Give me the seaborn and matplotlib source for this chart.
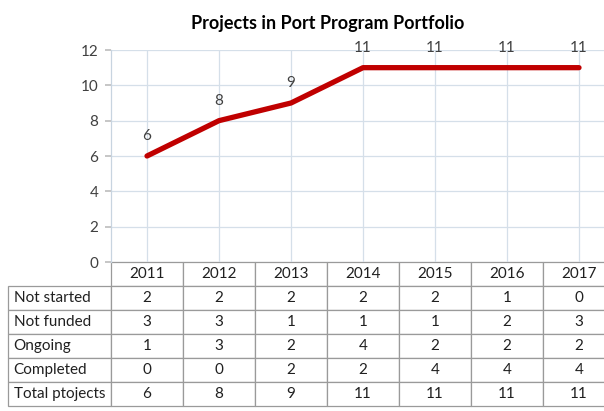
import pandas as pd
import seaborn as sns
import matplotlib.pyplot as plt
from matplotlib.table import Table

# chart data
years = ["2011", "2012", "2013", "2014", "2015", "2016", "2017"]
row_labels = ["Not started", "Not funded", "Ongoing", "Completed", "Total ptojects"]
not_started = [2, 2, 2, 2, 2, 1, 0]
not_funded = [3, 3, 1, 1, 1, 2, 3]
ongoing = [1, 3, 2, 4, 2, 2, 2]
completed = [0, 0, 2, 2, 4, 4, 4]
total_projects = [6, 8, 9, 11, 11, 11, 11]

sns.set_theme(style="white")
plt.rcParams["font.family"] = ["Lato", "DejaVu Sans"]

W, H = 604, 411
fig = plt.figure(figsize=(W / 100, H / 100), dpi=100)

# plot area in pixels (the original chart is cropped on the right)
left, right, top, bottom = 111, 604, 50, 262
col_w = 72
ax = fig.add_axes([left / W, 1 - bottom / H, (right - left) / W, (bottom - top) / H])

df = pd.DataFrame({"idx": range(len(years)), "total": total_projects})
sns.lineplot(data=df, x="idx", y="total", ax=ax, color="#C00000",
             linewidth=3.8, solid_capstyle="round", solid_joinstyle="round")

for i, v in enumerate(total_projects):
    ax.annotate(str(v), (i, v), xytext=(0, 14.5), textcoords="offset points",
                ha="center", va="center", fontsize=11, color="#404040")

ax.set_xlim(-0.5, (right - left) / col_w - 0.5)
ax.set_ylim(0, 12)
ax.set_yticks(range(0, 13, 2))
ax.set_xticks(range(len(years)))
ax.set_xticklabels([])
ax.set_xlabel("")
ax.set_ylabel("")
ax.grid(True, color="#D5DFE9", linewidth=0.9)
ax.tick_params(axis="y", left=True, length=4, color="#BFBFBF", labelsize=11,
               labelcolor="#404040", pad=5)
ax.tick_params(axis="x", bottom=False, length=0)
for side in ["top", "right", "bottom"]:
    ax.spines[side].set_visible(False)
ax.spines["left"].set_color("#C8D4E0")
ax.spines["left"].set_linewidth(0.9)

# data table under the plot, built cell by cell
rows = [not_started, not_funded, ongoing, completed, total_projects]
label_w = left - 8
row_h = 24
n_rows = len(row_labels) + 1
ax_w = right - left
ax_h = bottom - top
tbl = Table(ax, bbox=[-label_w / ax_w, -n_rows * row_h / ax_h,
                      (label_w + col_w * len(years)) / ax_w, n_rows * row_h / ax_h])
for j, year in enumerate(years):
    tbl.add_cell(0, j + 1, col_w, row_h, text=year, loc="center")
for i, (label, row) in enumerate(zip(row_labels, rows)):
    cell = tbl.add_cell(i + 1, 0, label_w, row_h, text=label, loc="left")
    cell.PAD = 0.055
    for j, v in enumerate(row):
        tbl.add_cell(i + 1, j + 1, col_w, row_h, text=str(v), loc="center")
tbl.auto_set_font_size(False)
for cell in tbl.get_celld().values():
    cell.set_edgecolor("#9A9A9A")
    cell.set_linewidth(0.9)
    cell.get_text().set_fontsize(11)
    cell.get_text().set_color("#202020")
ax.add_table(tbl)

fig.text(328 / W, 1 - 23 / H, "Projects in Port Program Portfolio",
         ha="center", va="center", fontsize=13, fontweight="bold", color="#000000")

fig.savefig("out.png", dpi=100)
